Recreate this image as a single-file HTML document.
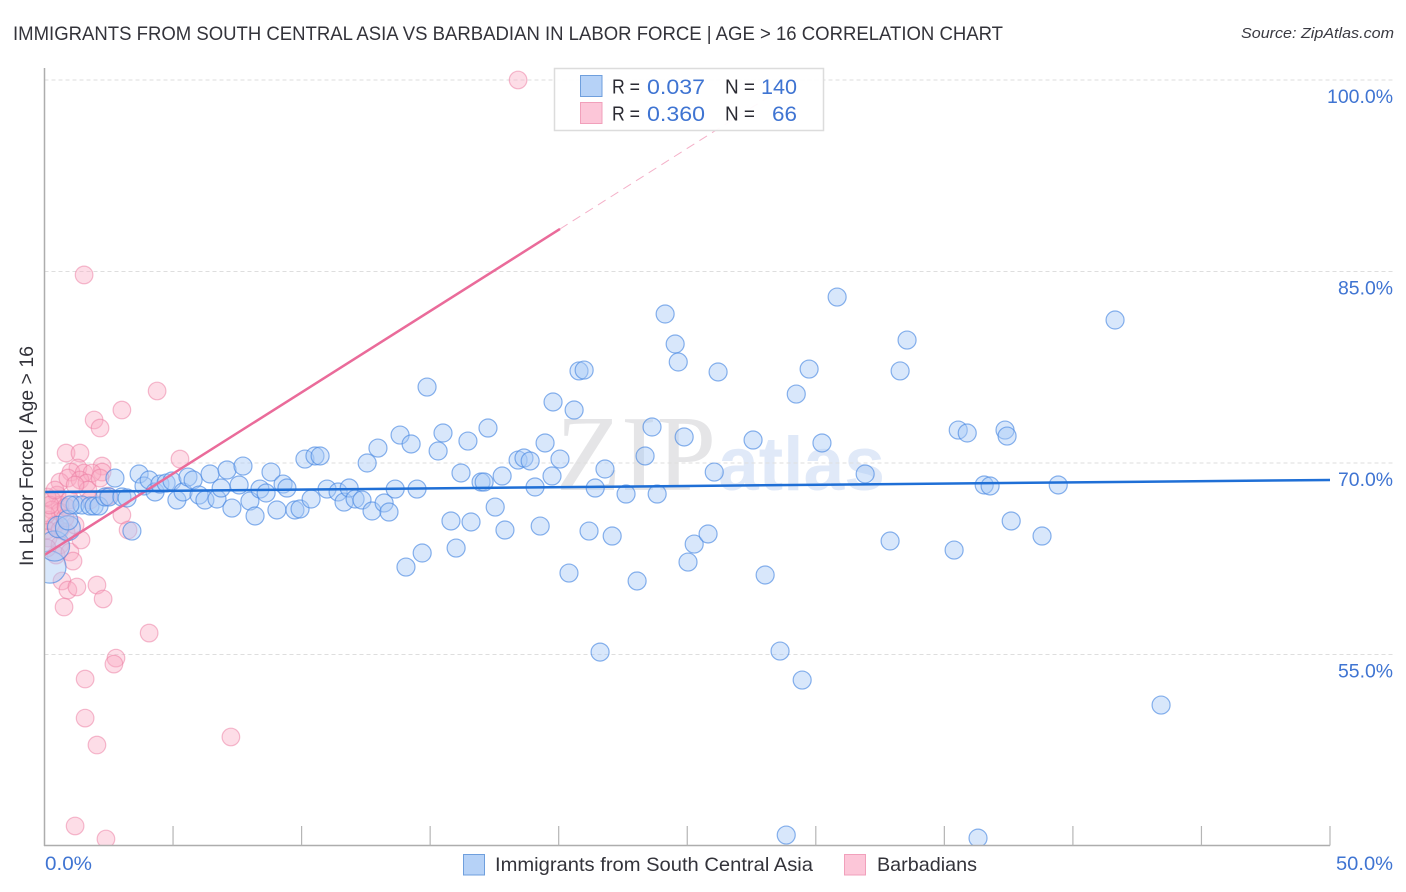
<!DOCTYPE html>
<html lang="en">
<head>
<meta charset="utf-8">
<title>Immigrants from South Central Asia vs Barbadian in Labor Force | Age > 16 Correlation Chart</title>
<style>
html,body{margin:0;padding:0;background:#fff;width:1406px;height:892px;overflow:hidden}
svg{display:block}
text{font-family:"Liberation Sans",sans-serif}
.tick{fill:#3f74d2;font-size:19.5px}
.legend-label{fill:#2b2b33;font-size:20px}
.legend-value{fill:#3f74d2;font-size:21px}
</style>
</head>
<body>
<svg id="chart" width="1406" height="892" viewBox="0 0 1406 892" xmlns="http://www.w3.org/2000/svg">
  <defs><clipPath id="plot-clip"><rect x="44.5" y="60" width="1350" height="785.5"/></clipPath></defs>
  <text x="13" y="40" font-size="19.5" fill="#33333a" textLength="990" lengthAdjust="spacingAndGlyphs">IMMIGRANTS FROM SOUTH CENTRAL ASIA VS BARBADIAN IN LABOR FORCE | AGE &gt; 16 CORRELATION CHART</text>
  <text x="1241" y="38" font-size="15" font-style="italic" fill="#3a3a42" textLength="153" lengthAdjust="spacingAndGlyphs">Source: ZipAtlas.com</text>
  <g>
    <text x="556" y="490" font-size="108" style="font-family:'Liberation Serif',serif" fill="#e5e5e7" textLength="160" lengthAdjust="spacingAndGlyphs">ZIP</text>
    <text x="718" y="490" font-size="76" font-weight="bold" fill="#e0e9f8" textLength="167" lengthAdjust="spacingAndGlyphs">atlas</text>
  </g>
  <g id="grid"></g>
  <g id="pink-points" clip-path="url(#plot-clip)"></g>
  <g id="blue-points" clip-path="url(#plot-clip)"></g>
  <g id="trends"></g>
  <g id="axes"></g>
  <text transform="translate(33,566) rotate(-90)" font-size="19" fill="#33333a" textLength="220" lengthAdjust="spacingAndGlyphs">In Labor Force | Age &gt; 16</text>
  <g>
    <rect x="554.5" y="68.5" width="269" height="62" fill="#fff" fill-opacity="0.93" stroke="#dcdcdc" stroke-width="1.5"/>
    <rect x="580.5" y="75.5" width="21.5" height="21" fill="#b6d2f7" stroke="#6f9fdd" stroke-width="1"/>
    <rect x="580.5" y="102.5" width="21.5" height="21" fill="#fcc6d8" stroke="#f1a0bb" stroke-width="1"/>
    <text class="legend-label" x="612" y="93.5" textLength="28" lengthAdjust="spacingAndGlyphs">R =</text>
    <text class="legend-value" x="647" y="94" textLength="58" lengthAdjust="spacingAndGlyphs">0.037</text>
    <text class="legend-label" x="725" y="93.5" textLength="30" lengthAdjust="spacingAndGlyphs">N =</text>
    <text class="legend-value" x="761" y="94" textLength="36" lengthAdjust="spacingAndGlyphs">140</text>
    <text class="legend-label" x="612" y="120.5" textLength="28" lengthAdjust="spacingAndGlyphs">R =</text>
    <text class="legend-value" x="647" y="121" textLength="58" lengthAdjust="spacingAndGlyphs">0.360</text>
    <text class="legend-label" x="725" y="120.5" textLength="30" lengthAdjust="spacingAndGlyphs">N =</text>
    <text class="legend-value" x="772" y="121" textLength="25" lengthAdjust="spacingAndGlyphs">66</text>
  </g>
  <g>
    <rect x="463.5" y="854.5" width="21" height="20.5" fill="#b6d2f7" stroke="#6f9fdd" stroke-width="1"/>
    <text x="495" y="871" font-size="19.5" fill="#33333a" textLength="318" lengthAdjust="spacingAndGlyphs">Immigrants from South Central Asia</text>
    <rect x="844.5" y="854.5" width="21" height="20.5" fill="#fcc6d8" stroke="#f1a0bb" stroke-width="1"/>
    <text x="877" y="871" font-size="19.5" fill="#33333a" textLength="100" lengthAdjust="spacingAndGlyphs">Barbadians</text>
  </g>
</svg>
<script>
const blueX = [0.21,0.39,0.53,0.91,0.91,1.19,1.46,1.77,1.93,2.12,2.35,2.51,2.74,3.01,3.21,3.40,3.68,3.87,4.07,4.30,4.49,4.73,4.96,5.15,5.39,5.58,5.78,6.01,6.24,6.44,6.71,6.87,7.10,7.29,7.57,7.72,7.99,8.19,8.38,8.62,8.81,9.04,9.28,9.43,9.74,9.94,10.13,10.37,10.52,10.72,10.99,11.42,11.65,11.85,12.08,12.35,12.55,12.74,12.97,13.21,13.40,13.64,13.83,14.06,14.26,14.49,14.69,14.88,15.31,15.50,15.81,16.01,16.20,16.47,16.59,16.98,17.10,17.25,17.53,17.80,17.91,18.42,18.65,18.89,19.08,19.28,19.47,19.74,19.78,20.05,20.40,20.60,20.79,20.99,21.18,21.42,21.61,21.80,22.08,22.62,23.05,23.36,23.63,23.83,24.14,24.53,24.65,24.88,25.03,25.27,25.81,26.05,26.20,27.56,28.03,28.61,28.85,29.24,29.47,29.74,30.24,30.83,31.92,32.89,33.28,33.55,35.38,35.54,35.89,36.31,36.55,36.78,37.36,37.44,37.60,38.80,39.43,41.64,43.43,0.99];
const blueY = [61.85,63.50,64.99,64.90,65.53,66.71,66.71,66.63,66.63,66.63,67.34,67.34,68.82,67.34,67.26,64.67,69.14,68.20,68.67,67.73,68.35,68.43,68.59,67.10,67.73,68.90,68.67,67.49,67.10,69.14,67.18,68.04,69.45,66.47,68.28,69.76,67.02,65.85,67.96,67.65,69.29,66.32,68.35,68.04,66.32,66.40,70.31,67.18,70.55,70.55,67.96,67.73,66.94,68.04,67.18,67.10,70.00,66.24,71.17,66.87,66.16,67.96,72.19,61.85,71.49,67.96,62.95,75.95,70.94,72.35,65.46,63.34,69.22,71.72,65.38,68.51,68.51,72.74,66.55,68.98,64.75,70.23,70.39,70.16,68.12,65.06,71.57,68.98,74.78,70.31,61.38,74.15,77.21,77.28,64.67,68.04,55.19,69.53,64.28,67.57,60.76,70.55,72.82,67.57,81.67,79.32,77.91,72.04,62.24,63.65,64.44,69.29,77.13,71.80,61.23,55.27,40.86,75.40,53.00,77.36,71.57,83.00,69.14,63.89,77.21,79.63,63.18,72.58,72.35,40.62,68.28,68.20,72.58,72.11,65.46,64.28,68.28,81.20,51.04,66.71];
const blueWeight = [3.2,2.8,1.4,1.9,1.2];
const pinkX = [18.42,1.54,4.38,3.01,1.93,2.16,0.84,1.38,5.27,2.24,2.24,1.30,1.03,1.54,1.85,0.60,0.91,1.38,1.65,1.69,2.16,0.49,0.29,0.60,0.10,0.29,0.60,0.14,0.41,0.10,0.14,0.60,0.84,1.19,0.60,0.45,0.99,1.11,1.42,3.01,3.25,0.68,0.91,1.26,2.04,2.28,0.76,4.07,2.78,2.70,1.58,1.58,2.04,7.25,1.19,2.39,0.06,0.21,0.10,0.99,2.47,0.80,1.77,0.41,0.84,1.19];
const pinkY = [100.0,84.73,75.64,74.15,73.37,72.74,70.78,70.78,70.31,69.76,69.29,69.61,69.29,69.22,69.22,68.51,68.82,68.67,68.43,67.88,68.82,67.49,67.10,66.71,67.34,66.32,66.16,65.53,65.14,64.75,64.12,64.75,64.59,65.14,63.58,62.79,63.03,62.32,63.97,65.93,64.75,60.76,60.05,60.29,60.44,59.35,58.72,56.68,54.72,54.25,53.08,50.02,47.91,48.54,41.57,40.55,65.93,66.71,63.34,67.10,67.41,65.69,67.10,67.88,66.55,68.28];
const blueTrendX = [0,50];
const blueTrendY = [67.73,68.67];
const pinkTrendX = [0,20.05];
const pinkTrendY = [62.8,88.33];
const pinkDashX = [20.05,29.2];
const pinkDashY = [88.33,100];
const yTicks = [100,85,70,55];
const yTickLabels = ["100.0%","85.0%","70.0%","55.0%"];
const xTicks = [5,10,15,20,25,30,35,40,45,50];
const xEndLabels = ["0.0%","50.0%"];

const NS = 'http://www.w3.org/2000/svg';
const sx = v => 44.5 + v * 25.71;
const sy = v => 80 + (100 - v) * 12.767;
function mk(tag, parent, attrs) {
  const el = document.createElementNS(NS, tag);
  for (const k in attrs) el.setAttribute(k, attrs[k]);
  parent.appendChild(el);
  return el;
}
const grid = document.getElementById('grid');
const axes = document.getElementById('axes');
yTicks.forEach((t, i) => {
  const line = mk('line', grid, {x1: 44.5, x2: 1393, y1: sy(t), y2: sy(t), stroke: '#dedede', 'stroke-width': 1, 'stroke-dasharray': '4 3'});
  
  
  const label = mk('text', axes, {x: 1393, y: sy(t) + 23, 'text-anchor': 'end', class: 'tick', textLength: yTickLabels[i].length * 11, lengthAdjust: 'spacingAndGlyphs'});
  label.textContent = yTickLabels[i];
  
  
});
const yAxis = mk('line', axes, {x1: 44.5, x2: 44.5, y1: 68, y2: 846, stroke: '#adadad', 'stroke-width': 1.5});


const xAxis = mk('line', axes, {x1: 44, x2: sx(50), y1: 845.5, y2: 845.5, stroke: '#adadad', 'stroke-width': 1.5});


xTicks.forEach(t => {
  const tick = mk('line', axes, {x1: sx(t), x2: sx(t), y1: 826, y2: 845.5, stroke: '#b5b5b5', 'stroke-width': 1.2});
  
  
});
const xLabelLeft = mk('text', axes, {x: 45, y: 870, class: 'tick', textLength: 47, lengthAdjust: 'spacingAndGlyphs'});
xLabelLeft.textContent = xEndLabels[0];


const xLabelRight = mk('text', axes, {x: 1336, y: 870, class: 'tick', textLength: 57, lengthAdjust: 'spacingAndGlyphs'});
xLabelRight.textContent = xEndLabels[1];



const pinkGroup = document.getElementById('pink-points');
pinkX.forEach((x, i) => {
  const c = mk('circle', pinkGroup, {cx: sx(x), cy: sy(pinkY[i]), r: 8.8, fill: '#f9aac4', 'fill-opacity': 0.4, stroke: '#ec7aa0', 'stroke-opacity': 0.5, 'stroke-width': 1.2});
  
  
});
const blueGroup = document.getElementById('blue-points');
blueX.forEach((x, i) => {
  const w = blueWeight[i] || 1;
  const c = mk('circle', blueGroup, {cx: sx(x), cy: sy(blueY[i]), r: 9 * Math.sqrt(w), fill: '#a9caf6', 'fill-opacity': 0.45, stroke: '#4a88e2', 'stroke-opacity': 0.65, 'stroke-width': 1.2});
  
  
});
const trends = document.getElementById('trends');
const pinkDash = mk('line', trends, {x1: sx(pinkDashX[0]), y1: sy(pinkDashY[0]), x2: sx(pinkDashX[1]), y2: sy(pinkDashY[1]), stroke: '#ef8fb0', 'stroke-width': 1, 'stroke-dasharray': '9 6', 'stroke-opacity': 0.7});


const pinkTrend = mk('line', trends, {x1: sx(pinkTrendX[0]), y1: sy(pinkTrendY[0]), x2: sx(pinkTrendX[1]), y2: sy(pinkTrendY[1]), stroke: '#ea6b9a', 'stroke-width': 2.5});


const blueTrend = mk('line', trends, {x1: sx(blueTrendX[0]), y1: sy(blueTrendY[0]), x2: sx(blueTrendX[1]), y2: sy(blueTrendY[1]), stroke: '#1f6fd6', 'stroke-width': 2.5});


</script>
</body>
</html>
